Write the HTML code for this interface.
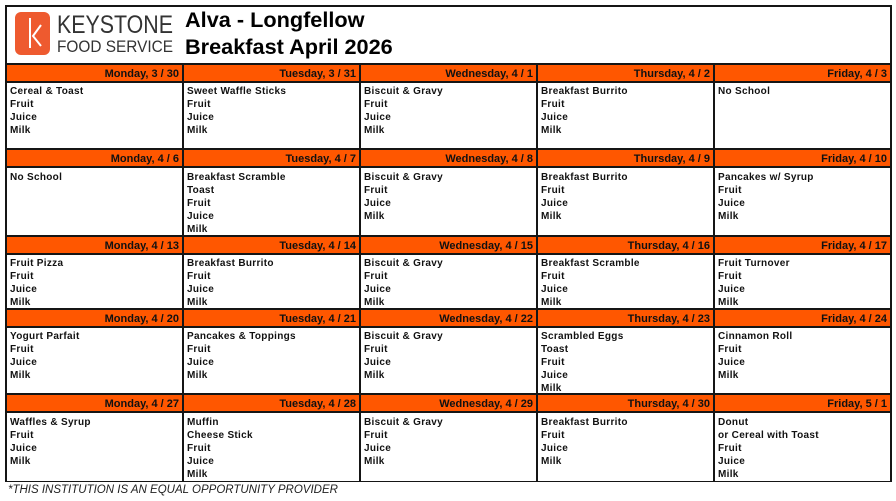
<!DOCTYPE html>
<html>
<head>
<meta charset="utf-8">
<style>
*{margin:0;padding:0;box-sizing:border-box}
html,body{width:896px;height:501px;background:#fff;overflow:hidden}
body{position:relative;font-family:"Liberation Sans",Arial,sans-serif;color:#111}
.outer{position:absolute;left:5px;top:5px;width:887px;height:477px;border:2px solid #151515}
.row{position:absolute;left:7px;width:883px}
.hl{height:2px;background:#151515}
.hdr{display:grid;grid-template-columns:repeat(5,175px);grid-template-rows:16px;column-gap:2px;background:#151515;height:16px}
.hdr div{background:#FF5700;font-weight:bold;font-size:11px;line-height:16px;padding-top:1px;text-align:right;padding-right:3px;white-space:nowrap;color:#111;overflow:visible}
.bd{display:grid;grid-template-columns:repeat(5,175px);column-gap:2px;background:#151515}
.bd div{background:#fff;font-weight:bold;font-size:10px;line-height:13px;letter-spacing:0.3px;padding:3px 0 0 3px;white-space:nowrap;color:#111;overflow:visible}
.bd.p2 div{padding-top:2px}
.title{position:absolute;left:185px;font-weight:bold;font-size:21.7px;color:#000;white-space:nowrap}
.foot{position:absolute;left:8px;top:483px;font-style:italic;font-size:11.5px;line-height:14px;color:#222;white-space:nowrap}
</style>
</head>
<body>
<div class="outer"></div>

<svg style="position:absolute;left:0;top:0" width="180" height="62">
  <rect x="15" y="12" width="35" height="43" rx="6" ry="6" fill="#EE5A2F"/>
  <line x1="30" y1="18" x2="30" y2="48" stroke="#fff" stroke-width="2"/>
  <polyline points="41,25 33,36 41,46" fill="none" stroke="#fff" stroke-width="2"/>
  <text x="57" y="33" font-family="Liberation Sans, Arial, sans-serif" font-size="25" fill="#333" textLength="116" lengthAdjust="spacingAndGlyphs">KEYSTONE</text>
  <text x="57" y="52" font-family="Liberation Sans, Arial, sans-serif" font-size="17" fill="#333" textLength="116" lengthAdjust="spacingAndGlyphs">FOOD SERVICE</text>
</svg>

<div class="title" style="top:7px;line-height:26px">Alva - Longfellow</div>
<div class="title" style="top:34px;line-height:26px">Breakfast April 2026</div>

<!-- Row 1 -->
<div class="row" style="top:63px">
  <div class="hl"></div>
  <div class="hdr"><div>Monday, 3 / 30</div><div>Tuesday, 3 / 31</div><div>Wednesday, 4 / 1</div><div>Thursday, 4 / 2</div><div>Friday, 4 / 3</div></div>
  <div class="hl"></div>
  <div class="bd p2" style="height:65px">
    <div>Cereal &amp; Toast<br>Fruit<br>Juice<br>Milk</div>
    <div>Sweet Waffle Sticks<br>Fruit<br>Juice<br>Milk</div>
    <div>Biscuit &amp; Gravy<br>Fruit<br>Juice<br>Milk</div>
    <div>Breakfast Burrito<br>Fruit<br>Juice<br>Milk</div>
    <div>No School</div>
  </div>
</div>

<!-- Row 2 -->
<div class="row" style="top:148px">
  <div class="hl"></div>
  <div class="hdr"><div>Monday, 4 / 6</div><div>Tuesday, 4 / 7</div><div>Wednesday, 4 / 8</div><div>Thursday, 4 / 9</div><div>Friday, 4 / 10</div></div>
  <div class="hl"></div>
  <div class="bd" style="height:67px">
    <div>No School</div>
    <div>Breakfast Scramble<br>Toast<br>Fruit<br>Juice<br>Milk</div>
    <div>Biscuit &amp; Gravy<br>Fruit<br>Juice<br>Milk</div>
    <div>Breakfast Burrito<br>Fruit<br>Juice<br>Milk</div>
    <div>Pancakes w/ Syrup<br>Fruit<br>Juice<br>Milk</div>
  </div>
</div>

<!-- Row 3 -->
<div class="row" style="top:235px">
  <div class="hl"></div>
  <div class="hdr"><div>Monday, 4 / 13</div><div>Tuesday, 4 / 14</div><div>Wednesday, 4 / 15</div><div>Thursday, 4 / 16</div><div>Friday, 4 / 17</div></div>
  <div class="hl"></div>
  <div class="bd p2" style="height:53px">
    <div>Fruit Pizza<br>Fruit<br>Juice<br>Milk</div>
    <div>Breakfast Burrito<br>Fruit<br>Juice<br>Milk</div>
    <div>Biscuit &amp; Gravy<br>Fruit<br>Juice<br>Milk</div>
    <div>Breakfast Scramble<br>Fruit<br>Juice<br>Milk</div>
    <div>Fruit Turnover<br>Fruit<br>Juice<br>Milk</div>
  </div>
</div>

<!-- Row 4 -->
<div class="row" style="top:308px">
  <div class="hl"></div>
  <div class="hdr"><div>Monday, 4 / 20</div><div>Tuesday, 4 / 21</div><div>Wednesday, 4 / 22</div><div>Thursday, 4 / 23</div><div>Friday, 4 / 24</div></div>
  <div class="hl"></div>
  <div class="bd p2" style="height:65px">
    <div>Yogurt Parfait<br>Fruit<br>Juice<br>Milk</div>
    <div>Pancakes &amp; Toppings<br>Fruit<br>Juice<br>Milk</div>
    <div>Biscuit &amp; Gravy<br>Fruit<br>Juice<br>Milk</div>
    <div>Scrambled Eggs<br>Toast<br>Fruit<br>Juice<br>Milk</div>
    <div>Cinnamon Roll<br>Fruit<br>Juice<br>Milk</div>
  </div>
</div>

<!-- Row 5 -->
<div class="row" style="top:393px">
  <div class="hl"></div>
  <div class="hdr"><div>Monday, 4 / 27</div><div>Tuesday, 4 / 28</div><div>Wednesday, 4 / 29</div><div>Thursday, 4 / 30</div><div>Friday, 5 / 1</div></div>
  <div class="hl"></div>
  <div class="bd" style="height:67px">
    <div>Waffles &amp; Syrup<br>Fruit<br>Juice<br>Milk</div>
    <div>Muffin<br>Cheese Stick<br>Fruit<br>Juice<br>Milk</div>
    <div>Biscuit &amp; Gravy<br>Fruit<br>Juice<br>Milk</div>
    <div>Breakfast Burrito<br>Fruit<br>Juice<br>Milk</div>
    <div>Donut<br>or Cereal with Toast<br>Fruit<br>Juice<br>Milk</div>
  </div>
</div>

<div class="foot">*THIS INSTITUTION IS AN EQUAL OPPORTUNITY PROVIDER</div>
</body>
</html>
